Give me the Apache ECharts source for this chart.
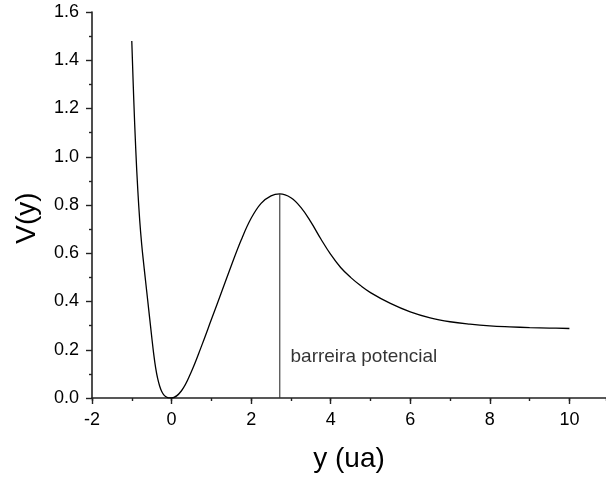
<!DOCTYPE html>
<html>
<head>
<meta charset="utf-8">
<script src="https://cdn.jsdelivr.net/npm/echarts@6/dist/echarts.min.js"></script>
<style>html,body{margin:0;padding:0;background:#fff}#c{width:606px;height:482px}</style>
</head>
<body>
<div id="c"></div>
<script>
// Potential curve V(y)
const yValues = [-1.0, -0.95, -0.9, -0.85, -0.8, -0.75, -0.7, -0.65, -0.6, -0.55, -0.5, -0.45, -0.4, -0.35, -0.3, -0.25, -0.2, -0.15, -0.1, -0.05, 0.0,
  0.25, 0.5, 0.75, 1.0, 1.25, 1.5, 1.75, 2.0, 2.25, 2.5, 2.72, 3.0, 3.25, 3.5, 3.75, 4.0, 4.25, 4.5, 4.75, 5.0, 5.5, 6.0, 6.5, 7.0, 7.5, 8.0, 8.5, 9.0, 9.5, 10.0];
const vValues = [1.48, 1.235, 1.03, 0.865, 0.735, 0.635, 0.555, 0.48, 0.405, 0.33, 0.255, 0.184, 0.125, 0.081, 0.05, 0.028, 0.014, 0.006, 0.002, 0.0005, 0.0,
  0.03, 0.11, 0.214, 0.325, 0.436, 0.548, 0.655, 0.745, 0.807, 0.838, 0.846, 0.83, 0.79, 0.73, 0.66, 0.595, 0.541, 0.5, 0.466, 0.437, 0.392, 0.357, 0.332, 0.316, 0.306, 0.299, 0.295, 0.292, 0.29, 0.288];
// Barrier marker line (x position, from 0 up to the peak)
const barrierX = [2.72, 2.72];
const barrierV = [0.0, 0.846];
// Annotation
const annotX = [2.99];
const annotV = [0.17];
const annotText = ['barreira potencial'];
// Axis ticks
const xMin = -2, xMax = 10.92, xStep = 2, xMinorStep = 1;
const yMin = 0, yMax = 1.6, yStep = 0.2;

const curve = yValues.map((x, i) => [x, vValues[i]]);
const barrier = barrierX.map((x, i) => [x, barrierV[i]]);
const annot = annotX.map((x, i) => [x, annotV[i]]);

const FONT = 'Liberation Sans, Arial, sans-serif';
const chart = echarts.init(document.getElementById('c'), null, {renderer: 'canvas'});
chart.setOption({
  animation: false,
  backgroundColor: '#fff',
  grid: {left: 92, top: 12, right: 0, bottom: 84, containLabel: false, outerBoundsMode: 'none'},
  xAxis: [{
    type: 'value', min: xMin, max: xMax, interval: xStep, position: 'bottom',
    name: 'y (ua)', nameLocation: 'middle', nameGap: 47,
    nameTextStyle: {fontFamily: FONT, fontSize: 28, color: '#000'},
    axisLine: {show: true, onZero: false, lineStyle: {color: '#222', width: 1.6}},
    axisTick: {show: true, inside: false, length: 6, lineStyle: {color: '#222', width: 1.4}},
    axisLabel: {fontFamily: FONT, fontSize: 18, color: '#000', margin: 13, showMaxLabel: false},
    splitLine: {show: false}
  }, {
    type: 'value', min: xMin, max: xMax, interval: xMinorStep, position: 'bottom',
    axisLine: {show: false, onZero: false},
    axisTick: {show: true, inside: false, length: 3, lineStyle: {color: '#222', width: 1.4}},
    axisLabel: {show: false},
    splitLine: {show: false}
  }],
  yAxis: {
    type: 'value', min: yMin, max: yMax, interval: yStep,
    name: 'V(y)', nameLocation: 'middle', nameGap: 51,
    nameTextStyle: {fontFamily: FONT, fontSize: 28, color: '#000', padding: [0, 26, 0, 0]},
    axisLine: {show: true, onZero: false, lineStyle: {color: '#222', width: 1.6}},
    axisTick: {show: true, inside: false, length: 6, lineStyle: {color: '#222', width: 1.4}},
    minorTick: {show: true, splitNumber: 2, length: 3, lineStyle: {color: '#222', width: 1.4}},
    axisLabel: {fontFamily: FONT, fontSize: 18, color: '#000', margin: 13,
      formatter: v => v.toFixed(1)},
    splitLine: {show: false}
  },
  series: [{
    type: 'line', data: curve, smooth: 0.4, showSymbol: false, silent: true,
    lineStyle: {color: '#000', width: 1.3}
  }, {
    type: 'line', data: barrier, showSymbol: false, silent: true,
    lineStyle: {color: '#333', width: 1.1}
  }, {
    type: 'scatter', data: annot, symbolSize: 0, silent: true,
    label: {show: true, position: 'right', distance: 0, formatter: p => annotText[p.dataIndex],
      fontFamily: FONT, fontSize: 19, color: '#000'}
  }]
});
</script>
</body>
</html>
